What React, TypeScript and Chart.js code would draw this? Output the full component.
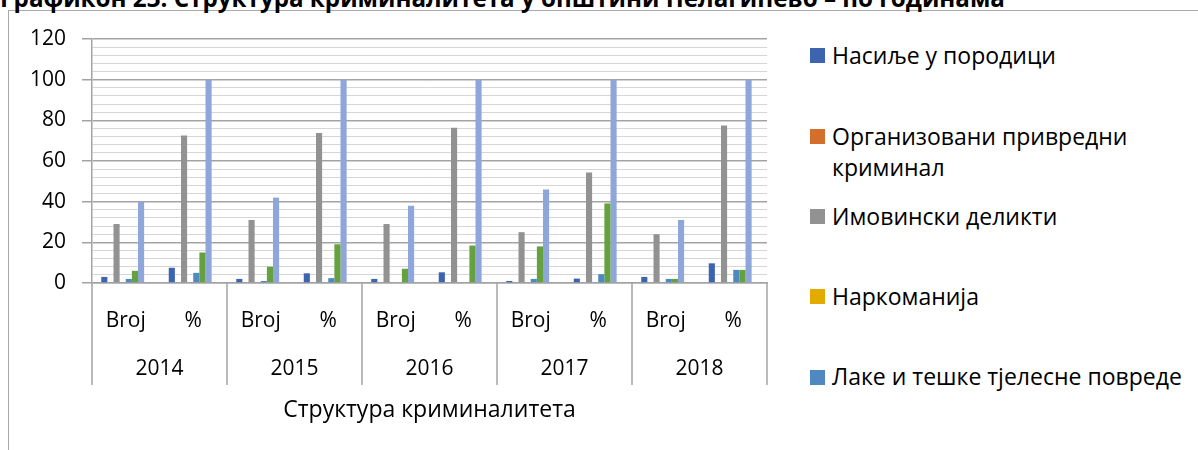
import React, { useEffect, useRef } from "react";
import { Chart, registerables } from "chart.js";

Chart.register(...registerables);

const chartTitle = "Графикон 23. Структура криминалитета у општини Пелагићево – по годинама";
const axisTitle = "Структура криминалитета";
const categories = ["Broj", "%", "Broj", "%", "Broj", "%", "Broj", "%", "Broj", "%"];
const years = ["2014", "2015", "2016", "2017", "2018"];

const seriesNames = [
  "Насиље у породици",
  "Организовани привредни криминал",
  "Имовински деликти",
  "Наркоманија",
  "Лаке и тешке тјелесне повреде",
  "Остала кривична дјела",
  "Укупно",
  "Остало",
];
const seriesColors = ["#3D64AE", "#D46F2B", "#929292", "#E3AA00", "#4E8AC1", "#65A13E", "#8EA6D9", "#2B4A80"];

const nasilje = [3, 7.5, 2, 4.76, 2, 5.26, 1, 2.17, 3, 9.68];
const organizovani = [0, 0, 0, 0, 0, 0, 0, 0, 0, 0];
const imovinski = [29, 72.5, 31, 73.81, 29, 76.32, 25, 54.35, 24, 77.42];
const narkomanija = [0, 0, 0, 0, 0, 0, 0, 0, 0, 0];
const povrede = [2, 5, 1, 2.38, 0, 0, 2, 4.35, 2, 6.45];
const ostalaDjela = [6, 15, 8, 19.05, 7, 18.42, 18, 39.13, 2, 6.45];
const ukupno = [40, 100, 42, 100, 38, 100, 46, 100, 31, 100];
const ostalo = [0, 0, 0, 0, 0, 0, 0, 0, 0, 0];

const seriesValues = [nasilje, organizovani, imovinski, narkomanija, povrede, ostalaDjela, ukupno, ostalo];
const legendVisibleCount = 5;

const Y_MIN = 0;
const Y_MAX = 120;
const Y_MAJOR = 20;
const Y_MINOR = 4;

const FONT = '"Open Sans", "Noto Sans", "DejaVu Sans", sans-serif';
const GRID_MAJOR = "#a3a3a3";
const GRID_MINOR = "#d6d6d6";

const yearAxisPlugin = {
  id: "yearAxis",
  afterDraw(chart: any) {
    const x = chart.scales.x;
    const { ctx, chartArea } = chart;
    const half = (x.getPixelForValue(1) - x.getPixelForValue(0)) / 2;
    const bottom = chartArea.bottom + 102;
    ctx.save();
    ctx.strokeStyle = GRID_MAJOR;
    ctx.lineWidth = 1.5;
    for (let g = 0; g <= years.length; g++) {
      const px =
        g < years.length
          ? x.getPixelForValue(g * 2) - half
          : x.getPixelForValue(categories.length - 1) + half;
      ctx.beginPath();
      ctx.moveTo(px, chartArea.bottom);
      ctx.lineTo(px, bottom);
      ctx.stroke();
    }
    ctx.fillStyle = "#000";
    ctx.font = `21px ${FONT}`;
    ctx.textAlign = "center";
    ctx.textBaseline = "middle";
    years.forEach((yr, g) => {
      const cx = (x.getPixelForValue(g * 2) + x.getPixelForValue(g * 2 + 1)) / 2;
      ctx.fillText(yr, cx, chartArea.bottom + 86);
    });
    ctx.restore();
  },
};

export default function App() {
  const canvasRef = useRef<HTMLCanvasElement | null>(null);

  useEffect(() => {
    let chart: Chart | null = null;
    let cancelled = false;
    const make = () => {
      if (cancelled || !canvasRef.current) return;
      chart = new Chart(canvasRef.current, {
        type: "bar",
        data: {
          labels: categories,
          datasets: seriesValues.map((vals, i) => ({
            label: seriesNames[i],
            data: vals,
            backgroundColor: seriesColors[i],
            borderWidth: 0,
            barPercentage: 1,
            categoryPercentage: 0.726,
          })),
        },
        options: {
          animation: false,
          responsive: false,
          maintainAspectRatio: false,
          layout: { padding: { left: 0, right: 23, top: 39, bottom: 0 } },
          plugins: {
            legend: { display: false },
            title: { display: false },
            tooltip: { enabled: false },
          },
          scales: {
            x: {
              type: "category",
              grid: { display: false, drawTicks: false },
              border: { display: true, color: GRID_MAJOR, width: 1.5 },
              ticks: {
                color: "#000",
                font: { family: FONT, size: 21 },
                padding: 25,
                autoSkip: false,
                maxRotation: 0,
              },
              title: {
                display: true,
                text: axisTitle,
                color: "#000",
                font: { family: FONT, size: 23 },
                padding: { top: 0, bottom: 26 },
              },
              afterFit(scale: any) {
                scale.height = 167;
              },
            },
            y: {
              min: Y_MIN,
              max: Y_MAX,
              grid: {
                color: (c: any) => (c.tick && c.tick.value % Y_MAJOR === 0 ? GRID_MAJOR : GRID_MINOR),
                lineWidth: (c: any) => (c.tick && c.tick.value % Y_MAJOR === 0 ? 1.5 : 1),
                tickColor: (c: any) => (c.tick && c.tick.value % Y_MAJOR === 0 ? GRID_MAJOR : "rgba(0,0,0,0)"),
                tickLength: 10,
                drawTicks: true,
              },
              border: { display: true, color: GRID_MAJOR, width: 1.5 },
              ticks: {
                stepSize: Y_MINOR,
                autoSkip: false,
                color: "#000",
                font: { family: FONT, size: 21 },
                padding: 16,
                callback: (v: any) => (Number(v) % Y_MAJOR === 0 ? String(v) : ""),
              },
              afterFit(scale: any) {
                scale.width = 92;
              },
            },
          },
        },
        plugins: [yearAxisPlugin],
      });
    };
    const fontsReady = (document as any).fonts
      ? Promise.all([
          (document as any).fonts.load(`21px "Open Sans"`),
          (document as any).fonts.load(`bold 24px "Open Sans"`),
        ]).catch(() => null)
      : Promise.resolve(null);
    fontsReady.then(make);
    return () => {
      cancelled = true;
      if (chart) chart.destroy();
    };
  }, []);

  const legendItems = seriesNames.slice(0, legendVisibleCount);

  return (
    <div
      style={{
        position: "fixed",
        left: 0,
        top: 0,
        width: 1198,
        height: 450,
        overflow: "hidden",
        background: "#fff",
        fontFamily: FONT,
      }}
    >
      <div
        style={{
          position: "absolute",
          left: 8,
          top: 10,
          width: 1220,
          height: 480,
          border: "1.5px solid #a9a9a9",
          boxSizing: "border-box",
        }}
      />
      <div
        style={{
          position: "absolute",
          left: 0,
          top: -19,
          fontSize: 24.2,
          lineHeight: "33px",
          fontWeight: 700,
          color: "#000",
          whiteSpace: "nowrap",
        }}
      >
        {chartTitle}
      </div>
      <canvas
        ref={canvasRef}
        width={790}
        height={450}
        style={{ position: "absolute", left: 0, top: 0, width: 790, height: 450 }}
      />
      {legendItems.map((name, i) => {
        const center = 56 + i * 80.3;
        return (
          <div
            key={name}
            style={{ position: "absolute", left: 810, top: center - 15.8, width: 388 }}
          >
            <div
              style={{
                position: "absolute",
                left: 0,
                top: 15.8 - 7.5,
                width: 15,
                height: 15,
                background: seriesColors[i],
              }}
            />
            <div
              style={{
                marginLeft: 22,
                width: 366,
                fontSize: 23,
                lineHeight: "31.6px",
                color: "#000",
              }}
            >
              {name}
            </div>
          </div>
        );
      })}
    </div>
  );
}
